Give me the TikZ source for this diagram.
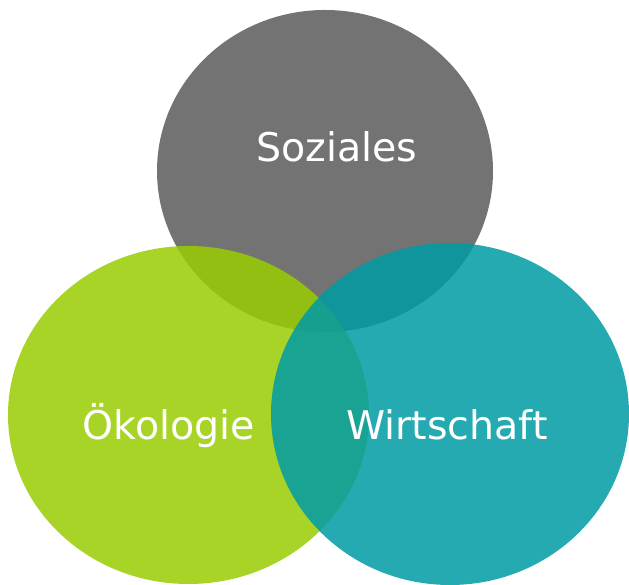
\documentclass[tikz,border=0pt]{standalone}
\usepackage{fontspec}
\setmainfont{DejaVu Sans}
\usetikzlibrary{shapes.geometric, positioning}
\definecolor{sozgray}{RGB}{90,90,90}
\definecolor{oekogreen}{RGB}{153,204,2}
\definecolor{wirtteal}{RGB}{0,155,164}

\begin{document}
\begin{tikzpicture}[x=1pt,y=1pt,
    kreis/.style={ellipse,inner sep=0pt,fill opacity=0.85},
    label/.style={anchor=base,text=white,font=\fontsize{39.5}{47}\selectfont}]
    \useasboundingbox (0,0) rectangle (629,585);

    % Soziales
    \node[kreis,fill=sozgray,minimum width=336pt,minimum height=322pt] (soz) at (325,414) {};
    \node[label] (sozlabel) at (337,423) {Soziales};

    % Oekologie
    \node[kreis,fill=oekogreen,minimum width=361pt,minimum height=338pt] (oeko) at (188.5,170) {};
    \node[label] (oekolabel) at (169,145) {Ökologie};

    % Wirtschaft
    \node[kreis,fill=wirtteal,minimum width=358pt,minimum height=342pt] (wirt) at (450,171) {};
    \node[label] (wirtlabel) at (447,145) {Wirtschaft};
\end{tikzpicture}
\end{document}
